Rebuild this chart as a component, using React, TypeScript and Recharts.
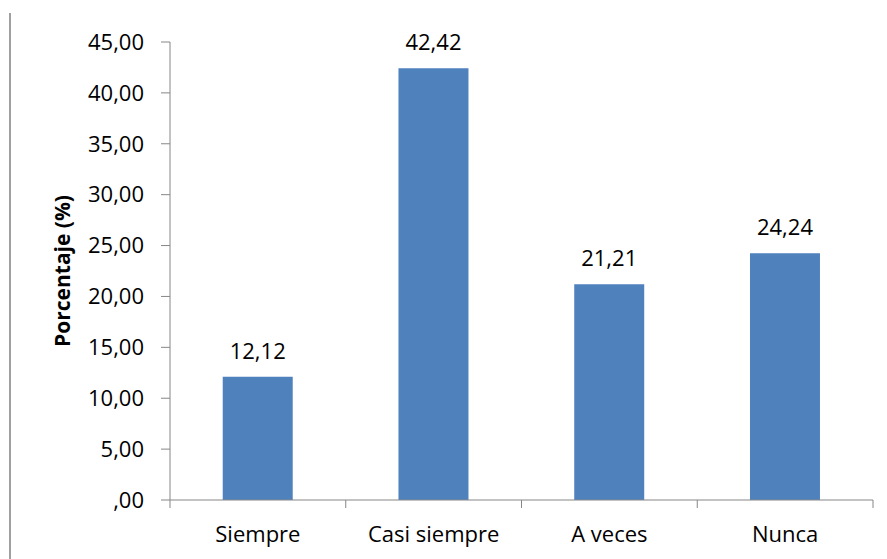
import React from 'react';
import { BarChart, Bar, XAxis, YAxis, LabelList } from 'recharts';

const categories = ['Siempre', 'Casi siempre', 'A veces', 'Nunca'];
const percentages = [12.12, 42.42, 21.21, 24.24];
const yTicks = [0, 5, 10, 15, 20, 25, 30, 35, 40, 45];

const data = categories.map((name, i) => ({ name, value: percentages[i] }));

const FONT = '"Open Sans", sans-serif';
const AXIS_COLOR = '#868686';
const BAR_COLOR = '#4F81BD';

// Spanish decimal format: 12.12 -> "12,12", 0 -> ",00"
const fmt = (v: number) => {
  const s = v.toFixed(2).replace('.', ',');
  return s.startsWith('0,') ? s.slice(1) : s;
};

// Category tick: label at band centre, tick marks at band boundaries
const CategoryTick = (props: any) => {
  const { x, y, payload, index } = props;
  const half = payload && payload.offset ? payload.offset : 0;
  const last = index === categories.length - 1;
  return (
    <g>
      <line x1={x - half} y1={y - 8} x2={x - half} y2={y} stroke={AXIS_COLOR} strokeWidth={1} />
      {last && (
        <line x1={x + half} y1={y - 8} x2={x + half} y2={y} stroke={AXIS_COLOR} strokeWidth={1} />
      )}
      <text x={x} y={y + 34} textAnchor="middle" fontFamily={FONT} fontSize={22} fill="#000">
        {payload.value}
      </text>
    </g>
  );
};

export default function App() {
  return (
    <div style={{ position: 'absolute', left: 0, top: 0, width: 887, height: 559, background: '#fff' }}>
      <div
        style={{
          position: 'absolute',
          left: 9,
          top: 13,
          width: 0,
          height: 546,
          borderLeft: '2px solid #a0a0a0',
        }}
      />
      <BarChart
        width={887}
        height={559}
        data={data}
        margin={{ top: 42, right: 14, bottom: 0, left: 0 }}
        barCategoryGap="30%"
      >
        <XAxis
          dataKey="name"
          stroke={AXIS_COLOR}
          tickLine={false}
          tick={<CategoryTick />}
          height={59}
          interval={0}
        />
        <YAxis
          domain={[0, 45]}
          ticks={yTicks}
          tickFormatter={fmt}
          width={170}
          stroke={AXIS_COLOR}
          tickSize={9}
          tickMargin={17}
          tick={{ fontFamily: FONT, fontSize: 22, fill: '#000' }}
          interval={0}
          label={{
            value: 'Porcentaje (%)',
            angle: -90,
            position: 'insideLeft',
            dx: 58,
            style: { fontFamily: FONT, fontSize: 21, fontWeight: 'bold', fill: '#000', textAnchor: 'middle' },
          }}
        />
        <Bar dataKey="value" fill={BAR_COLOR} isAnimationActive={false}>
          <LabelList
            dataKey="value"
            position="top"
            offset={18}
            formatter={(v: any) => fmt(Number(v))}
            style={{ fontFamily: FONT, fontSize: 22, fill: '#000' }}
          />
        </Bar>
      </BarChart>
    </div>
  );
}
